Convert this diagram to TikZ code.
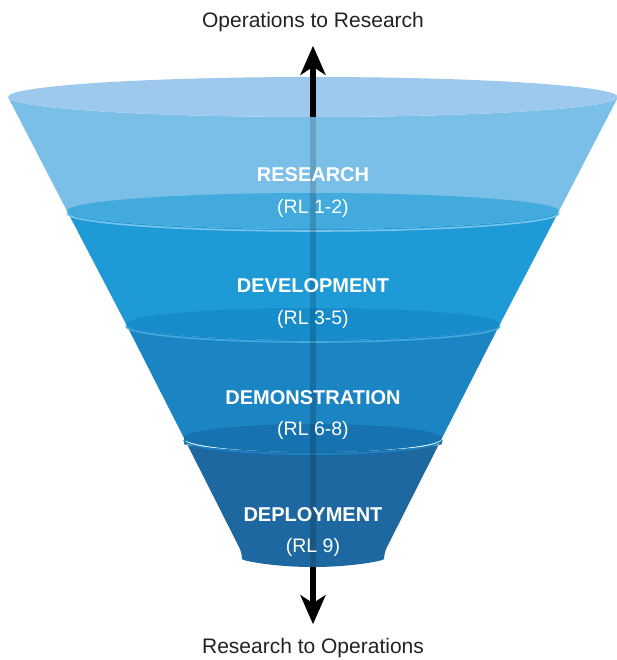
\documentclass[tikz,border=0pt]{standalone}
\usepackage{fontspec}
\setmainfont{Liberation Sans}
\usetikzlibrary{arrows.meta}
\definecolor{c9DC9EC}{RGB}{157,201,236}
\definecolor{c7ABFE8}{RGB}{122,191,232}
\definecolor{c42AADD}{RGB}{66,170,221}
\definecolor{c1E9BD7}{RGB}{30,155,215}
\definecolor{c168CCB}{RGB}{22,140,203}
\definecolor{c1B84C3}{RGB}{27,132,195}
\definecolor{c1673B0}{RGB}{22,115,176}
\definecolor{c1E68A2}{RGB}{30,104,162}
\definecolor{c7CC4EA}{RGB}{124,196,234}
\definecolor{c222222}{RGB}{34,34,34}

\begin{document}
\begin{tikzpicture}[y=1pt,x=1pt,yscale=-1, outer sep=0pt,
    rim/.style={draw=#1,line width=1.6pt},
    phase/.style={text=white,font=\bfseries\fontsize{20}{23}\selectfont},
    level/.style={text=white,font=\fontsize{19.5}{22}\selectfont},
    caption/.style={text=c222222,inner sep=2pt,font=\fontsize{21}{24}\selectfont},
    flow/.style={line width=5.5pt,shorten >=12pt,
      -{Stealth[length=29pt,width=25pt,inset=8pt]}}]
    \useasboundingbox (0,0) rectangle (617,660);
    % research band and cap
      \path[fill=c7ABFE8] (8,97) -- (67,211)
        arc[start angle=180,end angle=0,x radius=246,y radius=18] -- (618,97)
        arc[start angle=0,end angle=180,x radius=305,y radius=20] -- cycle;
      \path[fill=c9DC9EC] (313,97) ellipse[x radius=305,y radius=20];
    % development
      \path[fill=c1E9BD7] (67,211) -- (126,324)
        arc[start angle=180,end angle=0,x radius=187,y radius=16] -- (559,211)
        arc[start angle=0,end angle=180,x radius=246,y radius=18] -- cycle;
      \path[fill=c42AADD] (313,211) ellipse[x radius=246,y radius=18];
      \path[rim=c7CC4EA] (67,213)
        arc[start angle=180,end angle=0,x radius=246,y radius=18];
    % demonstration
      \path[fill=c1B84C3] (126,324) -- (184,438)
        arc[start angle=180,end angle=0,x radius=129,y radius=14] -- (500,324)
        arc[start angle=0,end angle=180,x radius=187,y radius=16] -- cycle;
      \path[fill=c168CCB] (313,324) ellipse[x radius=187,y radius=16];
      \path[rim=c42AADD] (126,326)
        arc[start angle=180,end angle=0,x radius=187,y radius=16];
    % deployment
      \path[fill=c1E68A2,rounded corners=6pt] (184,438) -- (242,553)
        arc[start angle=180,end angle=0,x radius=71,y radius=14] -- (442,438)
        arc[start angle=0,end angle=180,x radius=129,y radius=14] -- cycle;
      \path[fill=c1673B0] (313,438) ellipse[x radius=129,y radius=14];
      \path[rim=c1B84C3] (184,440)
        arc[start angle=180,end angle=0,x radius=129,y radius=14];

    \coordinate (captop) at (313,117);
    \coordinate (capbot) at (313,567);
    \path[draw=black,draw opacity=0.16,line width=5.5pt] (captop) -- (capbot);

    \node[phase] (research) at (313,175) {RESEARCH};
    \node[level] (rl12) at (313,208) {(RL 1-2)};
    \node[phase] (development) at (313,286) {DEVELOPMENT};
    \node[level] (rl35) at (313,319) {(RL 3-5)};
    \node[phase] (demonstration) at (313,398) {DEMONSTRATION};
    \node[level] (rl68) at (313,430) {(RL 6-8)};
    \node[phase] (deployment) at (313,515) {DEPLOYMENT};
    \node[level] (rl9) at (313,547) {(RL 9)};

    \node[caption] (opsres) at (313,22) {Operations to Research};
    \node[caption] (resops) at (313,648) {Research to Operations};
    \draw[flow] (captop) -- (opsres);
    \draw[flow] (capbot) -- (resops);
\end{tikzpicture}
\end{document}
